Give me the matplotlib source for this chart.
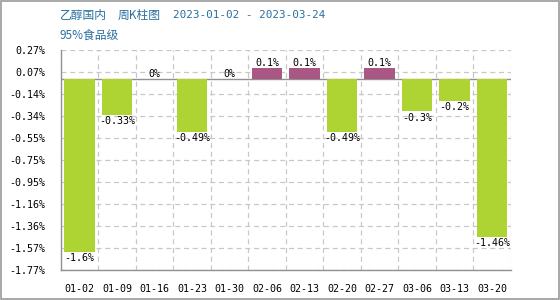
import matplotlib
matplotlib.use("Agg")
import matplotlib.pyplot as plt
from matplotlib.patches import Rectangle

categories = ["01-02", "01-09", "01-16", "01-23", "01-30", "02-06",
              "02-13", "02-20", "02-27", "03-06", "03-13", "03-20"]
values = [-1.6, -0.33, 0, -0.49, 0, 0.1, 0.1, -0.49, 0.1, -0.3, -0.2, -1.46]
labels = ["-1.6%", "-0.33%", "0%", "-0.49%", "0%", "0.1%", "0.1%",
          "-0.49%", "0.1%", "-0.3%", "-0.2%", "-1.46%"]
yticks = [0.27, 0.07, -0.14, -0.34, -0.55, -0.75, -0.95, -1.16, -1.36, -1.57, -1.77]
title1a = "乙醇国内"
title1b = "周K柱图"
title2 = "2023-01-02 - 2023-03-24"
subtitle = "95%食品级"

plt.rcParams['font.family'] = ['Noto Sans CJK SC', 'DejaVu Sans']

fig = plt.figure(figsize=(5.6, 3.0), dpi=100)
ax = fig.add_axes([60.7/560, 1-270/300, 450/560, 220/300])

ymax, ymin = 0.27, -1.77
step = (ymax - ymin) / 10
tick_pos = [ymax - step*i for i in range(11)]

green = "#add432"
purple = "#aa5883"
colors = [purple if v > 0 else green for v in values]
x = list(range(len(categories)))
ax.bar(x, values, width=0.82, color=colors, zorder=3)

fs = 7.2
mono = 'DejaVu Sans Mono'
for xi, v, lab in zip(x, values, labels):
    if v >= 0:
        ax.text(xi, v + 0.005, lab, ha='center', va='bottom', fontsize=fs,
                family=mono, zorder=4)
    else:
        ax.text(xi, v - 0.01, lab, ha='center', va='top', fontsize=fs,
                family=mono, zorder=4)

ax.set_xlim(-0.5, len(categories) - 0.5)
ax.set_ylim(ymin, ymax)
ax.set_yticks(tick_pos)
ax.set_yticklabels([f"{t:.2f}%" for t in yticks], family=mono, fontsize=fs)
ax.set_xticks(x)
ax.set_xticklabels(categories, family=mono, fontsize=fs)
ax.tick_params(length=0)
ax.tick_params(axis='y', pad=11)
ax.tick_params(axis='x', pad=10)

for t in tick_pos:
    ax.axhline(t, color='#c8c8c8', ls=(0, (4, 3)), lw=0.9, zorder=1)
for b in [i + 0.5 for i in range(len(categories))]:
    ax.axvline(b, color='#c8c8c8', ls=(0, (4, 3)), lw=0.9, zorder=1)
ax.axhline(0, color='#909090', lw=1.0, zorder=2)

for s in ['top', 'right']:
    ax.spines[s].set_visible(False)
for s in ['left', 'bottom']:
    ax.spines[s].set_color('#909090')
    ax.spines[s].set_linewidth(1.0)

blue = "#2a6f9f"
fig.text(60/560, 1-15/300, title1a, color=blue, fontsize=8.5, va='center', ha='left')
fig.text(118/560, 1-15/300, title1b, color=blue, fontsize=8.5, va='center', ha='left')
fig.text(173/560, 1-15/300, title2, color=blue, fontsize=7.9, va='center', ha='left',
         family=mono)
fig.text(60/560, 1-35/300, subtitle, color=blue, fontsize=8.5, va='center', ha='left')

fig.patches.append(Rectangle((0.001, 0.002), 0.997, 0.995, transform=fig.transFigure,
                             fill=False, edgecolor='#999999', lw=1.2))

fig.savefig("out.png", dpi=100)
